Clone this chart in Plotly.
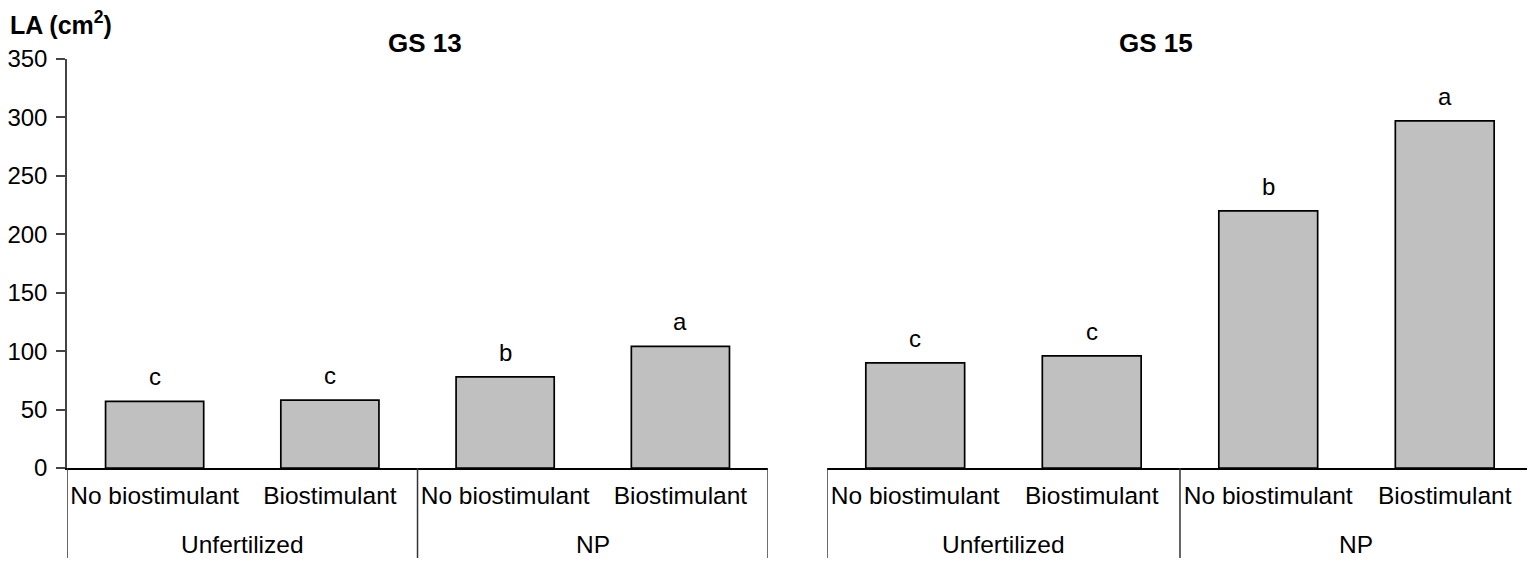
import plotly.graph_objects as go

# ── Data ───────────────────────────────────────────────────────────────────────
TREATMENTS = ["No biostimulant", "Biostimulant", "No biostimulant", "Biostimulant"]
FERTILIZATION = ["Unfertilized", "NP"]
GS13_LA = [57, 58, 78, 104]
GS15_LA = [90, 96, 220, 297]
GS13_LETTERS = ["c", "c", "b", "a"]
GS15_LETTERS = ["c", "c", "b", "a"]
Y_TICKS = [0, 50, 100, 150, 200, 250, 300, 350]

FONT = "Arial, Liberation Sans, sans-serif"
BAR_FILL = "#c0c0c0"

fig = go.Figure()

xpos = list(range(len(TREATMENTS)))
# (x axis, y axis, values, letters, title, title x position)
panels = [
    ("x", "y", GS13_LA, GS13_LETTERS, "GS 13", 1.54),
    ("x2", "y2", GS15_LA, GS15_LETTERS, "GS 15", 1.365),
]

for xa, ya, vals, letters, title, tx in panels:
    fig.add_trace(go.Bar(
        x=xpos, y=vals, xaxis=xa, yaxis=ya,
        marker=dict(color=BAR_FILL, line=dict(color="black", width=1.7)),
        showlegend=False, hoverinfo="y",
    ))
    # significance letters
    for xi, v, lt in zip(xpos, vals, letters):
        fig.add_annotation(x=xi, y=v, xref=xa, yref=ya, text=lt,
                           showarrow=False, yanchor="bottom", yshift=9,
                           font=dict(size=24, color="black", family=FONT))
    # group labels under the category labels
    for gi, grp in enumerate(FERTILIZATION):
        fig.add_annotation(x=gi * 2 + 0.5, y=-0.188, xref=xa, yref="paper",
                           text=grp, showarrow=False, yanchor="middle",
                           font=dict(size=24.5, color="black", family=FONT))
    # dividers between groups
    for xd in (-0.5, 1.5, 3.5):
        fig.add_shape(type="line", xref=xa, yref="paper",
                      x0=xd, x1=xd, y0=0, y1=-0.22,
                      line=dict(color="#333333", width=1.5))
    # panel title
    fig.add_annotation(x=tx, y=1.039, xref=xa, yref="paper",
                       text=f"<b>{title}</b>", showarrow=False, yanchor="middle",
                       font=dict(size=26, color="black", family=FONT))

fig.add_annotation(x=-59 / 1466, y=1.0, xref="paper", yref="paper",
                   text="<b>LA (cm<sup>2</sup>)</b>", showarrow=False,
                   xanchor="left", yanchor="top", yshift=54,
                   font=dict(size=25, color="black", family=FONT))

xaxis_common = dict(
    tickvals=xpos, ticktext=TREATMENTS, range=[-0.5, 3.5],
    showline=True, linecolor="black", linewidth=1.5,
    ticks="", showgrid=False, zeroline=False, automargin=False,
    tickfont=dict(size=24.5, color="black", family=FONT),
    ticklabelstandoff=5,
)

# page body has an 8px margin, so the figure is 8px smaller on each side
fig.update_layout(
    width=1527, height=554,
    margin=dict(l=59, r=2, t=51, b=94),
    paper_bgcolor="white", plot_bgcolor="white",
    bargap=0.44,
    xaxis=dict(domain=[0, 0.4782], anchor="y", **xaxis_common),
    xaxis2=dict(domain=[0.5184, 1.0], anchor="y2", **xaxis_common),
    yaxis=dict(
        range=[0, 350], tickvals=Y_TICKS, showline=True,
        linecolor="#444444", linewidth=1.5,
        ticks="outside", ticklen=9, tickcolor="#444444", tickwidth=1.5,
        showgrid=False, zeroline=False, automargin=False,
        tickfont=dict(size=24, color="black", family=FONT),
        ticklabelstandoff=4,
    ),
    yaxis2=dict(range=[0, 350], anchor="x2", visible=False),
)

fig.write_html("out.html")
